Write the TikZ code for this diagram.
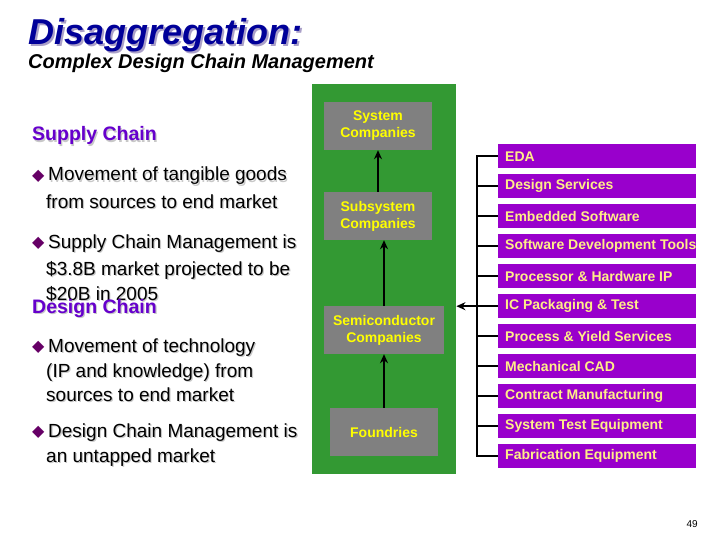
\documentclass[tikz,border=0pt]{standalone}
\usepackage{fontspec}
\setmainfont{Liberation Sans}
\newfontfamily\symfont{DejaVu Sans}
\usetikzlibrary{arrows.meta}
\definecolor{navy}{RGB}{0,0,153}
\definecolor{titleshadow}{RGB}{170,160,200}
\definecolor{chainpurple}{RGB}{102,0,204}
\definecolor{bulletpurple}{RGB}{102,0,102}
\definecolor{boxgreen}{RGB}{51,153,51}
\definecolor{boxgray}{RGB}{128,128,128}
\definecolor{barpurple}{RGB}{153,0,204}
\definecolor{baryellow}{RGB}{255,238,136}
\definecolor{boxyellow}{RGB}{255,255,0}
\definecolor{softshadow}{RGB}{200,200,200}
\newcommand\barlabel[1]{\makebox[184pt][l]{#1}}
\newcommand\shd[1]{\makebox[0pt][l]{\raisebox{-1.2pt}{\hspace{1.2pt}\color{softshadow}#1}}#1}
\newcommand\bul{\makebox[16pt][l]{\raisebox{0.5pt}{\symfont\color{bulletpurple}\fontsize{16}{16}\selectfont ◆}}}
\tikzset{
  titletext/.style={anchor=base west, inner sep=0, font=\fontsize{36}{36}\selectfont\bfseries\itshape},
  subtitletext/.style={anchor=base west, inner sep=0, font=\fontsize{20}{20}\selectfont\bfseries\itshape},
  headtext/.style={anchor=base west, inner sep=0, text=chainpurple, font=\fontsize{19.5}{19.5}\selectfont\bfseries},
  bodytext/.style={anchor=base west, inner sep=0, font=\fontsize{19}{19}\selectfont},
  graybox/.style={fill=boxgray, inner sep=0, minimum height=48pt, text=boxyellow, align=center,
     font=\fontsize{14}{17}\selectfont\bfseries},
  barbox/.style={fill=barpurple, anchor=north west, inner xsep=7pt, inner ysep=0, minimum height=24pt,
     text=baryellow, font=\fontsize{14}{14}\selectfont\bfseries},
  blackline/.style={line width=2pt, black},
  arr/.style={blackline, -{Stealth[length=9pt,width=8pt]}},
}
\begin{document}
\begin{tikzpicture}[x=1pt,y=-1pt]
\useasboundingbox (0,0) rectangle (720,540);
% titles
\node[titletext, text=titleshadow] (titlesh) at (30,46.5) {Disaggregation:};
\node[titletext, text=navy] (title) at (28,44.5) {Disaggregation:};
\node[subtitletext] (subtitle) at (28,69) {Complex Design Chain Management};
% left text
\node[headtext] (supply) at (32,141) {\shd{Supply Chain}};
\node[bodytext] (s1a) at (32,181) {\bul\shd{Movement of tangible goods}};
\node[bodytext] (s1b) at (46,208) {\shd{from sources to end market}};
\node[bodytext] (s2a) at (32,248) {\bul\shd{Supply Chain Management is}};
\node[bodytext] (s2b) at (46,275) {\shd{\$3.8B market projected to be}};
\node[bodytext] (s2c) at (46,300) {\shd{\$20B in 2005}};
\node[headtext] (design) at (32,313) {\shd{Design Chain}};
\node[bodytext] (d1a) at (32,352) {\bul\shd{Movement of technology}};
\node[bodytext] (d1b) at (46,377) {\shd{(IP and knowledge) from}};
\node[bodytext] (d1c) at (46,401) {\shd{sources to end market}};
\node[bodytext] (d2a) at (32,437) {\bul\shd{Design Chain Management is}};
\node[bodytext] (d2b) at (46,462) {\shd{an untapped market}};
% green panel
\node[fill=boxgreen, anchor=north west, minimum width=144pt, minimum height=390pt, inner sep=0] (green) at (312,84) {};
\node[graybox, minimum width=108pt] (sys) at (378,126) {System\\Companies};
\node[graybox, minimum width=108pt] (sub) at (378,216) {Subsystem\\Companies};
\node[graybox, minimum width=120pt] (semi) at (384,330) {Semiconductor\\Companies};
\node[graybox, minimum width=108pt] (fnd) at (384,432) {Foundries};
\draw[arr] (sub.north) -- (sys.south);
\draw[arr] (semi.north) -- (semi.north |- sub.south);
\draw[arr] (fnd.north) -- (semi.south);
% bars
\node[barbox] (b1) at (498,144) {\barlabel{EDA}};
\node[barbox] (b2) at (498,174) {\barlabel{Design Services}};
\node[barbox] (b3) at (498,204) {\barlabel{Embedded Software}};
\node[barbox] (b4) at (498,234) {\barlabel{Software Development Tools}};
\node[barbox] (b5) at (498,264) {\barlabel{Processor \& Hardware IP}};
\node[barbox] (b6) at (498,294) {\barlabel{IC Packaging \& Test}};
\node[barbox] (b7) at (498,324) {\barlabel{Process \& Yield Services}};
\node[barbox] (b8) at (498,354) {\barlabel{Mechanical CAD}};
\node[barbox] (b9) at (498,384) {\barlabel{Contract Manufacturing}};
\node[barbox] (b10) at (498,414) {\barlabel{System Test Equipment}};
\node[barbox] (b11) at (498,444) {\barlabel{Fabrication Equipment}};
\coordinate (spinetop) at (477,156);
\coordinate (spinebot) at (477,456);
\draw[blackline, line cap=rect] (spinetop) -- (spinebot);
\foreach \i in {1,...,11} {\draw[blackline] (spinetop |- b\i.west) -- (b\i.west);}
\draw[arr] (spinetop |- b6.west) -- (green.east |- b6.west);
% page number
\node[anchor=base east, inner sep=0, font=\fontsize{10}{10}\selectfont] (page) at (698,527) {49};
\end{tikzpicture}
\end{document}
